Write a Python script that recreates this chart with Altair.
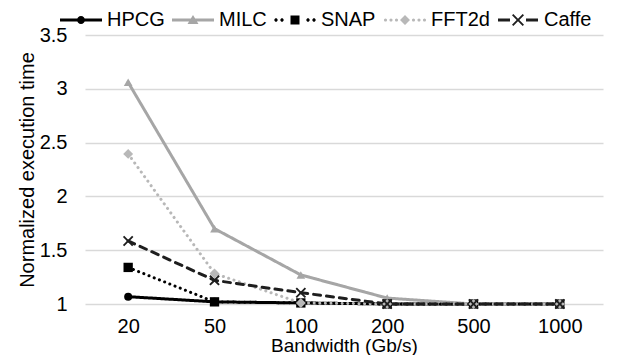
import altair as alt
import pandas as pd

# ---- data ----
bandwidth = ["20", "50", "100", "200", "500", "1000"]
series = ["HPCG", "MILC", "SNAP", "FFT2d", "Caffe"]
hpcg = [1.068, 1.02, 1.01, 1.0, 1.0, 1.0]
milc = [3.06, 1.70, 1.27, 1.055, 1.0, 1.0]
snap = [1.34, 1.02, 1.01, 1.0, 1.0, 1.0]
fft2d = [2.395, 1.284, 1.01, 1.0, 1.0, 1.0]
caffe = [1.586, 1.22, 1.105, 1.0, 1.0, 1.0]

rows = []
for name, vals in zip(series, [hpcg, milc, snap, fft2d, caffe]):
    for b, v in zip(bandwidth, vals):
        rows.append({"Bandwidth": b, "Benchmark": name, "Value": v})
df = pd.DataFrame(rows)

# ---- styles ----
colors = ["#000000", "#a6a6a6", "#000000", "#b8b8b8", "#1e1e1e"]
dashes = [[1, 0], [1, 0], [0.1, 5.5], [0.1, 5.5], [7, 6]]
xpath = ("M-1,-0.75L-0.75,-1L0,-0.25L0.75,-1L1,-0.75L0.25,0L1,0.75L0.75,1"
         "L0,0.25L-0.75,1L-1,0.75L-0.25,0Z")
shapes = ["circle", "triangle-up", "square", "diamond", xpath]
sizes = [64, 110, 72, 100, 110]

font = "Liberation Sans"

# legend symbols (line + marker), built as filled paths in a [-1,1] box
U = 21.0  # px per unit (symbol width 42px)


def f(v):
    return f"{v / U:.4f}"


def rect(x0, x1, h):
    return f"M{f(x0)},{f(-h/2)}L{f(x1)},{f(-h/2)}L{f(x1)},{f(h/2)}L{f(x0)},{f(h/2)}Z"


def circ(cx, r):
    return (f"M{f(cx - r)},0A{f(r)},{f(r)} 0 1,1 {f(cx + r)},0"
            f"A{f(r)},{f(r)} 0 1,1 {f(cx - r)},0Z")


def tri(a, top, bot):
    return f"M0,{f(top)}L{f(a)},{f(bot)}L{f(-a)},{f(bot)}Z"


def diamond(a):
    return f"M0,{f(-a)}L{f(a)},0L0,{f(a)}L{f(-a)},0Z"


def square(a):
    return rect(-a, a, 2 * a)


def xmark(a, d):
    p = [(-1, -1 + d), (-1 + d, -1), (0, -d), (1 - d, -1), (1, -1 + d), (d, 0),
         (1, 1 - d), (1 - d, 1), (0, d), (-1 + d, 1), (-1, 1 - d), (-d, 0)]
    return "M" + "L".join(f"{f(x * a)},{f(y * a)}" for x, y in p) + "Z"


leg_paths = [
    rect(-21, 21, 3) + circ(0, 4),
    rect(-21, 21, 3) + tri(5.5, -5, 4),
    "".join(circ(c, 1.7) for c in [-19, -13, 13, 19]) + square(4.5),
    "".join(circ(c, 1.6) for c in [-19.5, -14, -8.5, 8.5, 14, 19.5]) + diamond(5),
    rect(-20, -8, 3) + rect(8, 20, 3) + xmark(6, 0.22),
]

legend = alt.Legend(
    title=None, orient="none", direction="horizontal", legendX=-25, legendY=-36,
    padding=0, labelFontSize=20, labelFont=font, labelColor="#000000",
    labelOffset=5, columnPadding=7, symbolSize=1764, symbolStrokeWidth=0,
    symbolOpacity=1,
)

xenc = alt.X("Bandwidth:N", sort=bandwidth, title="Bandwidth (Gb/s)",
             scale=alt.Scale(paddingOuter=0.5),
             axis=alt.Axis(labelAngle=0, ticks=False, domain=False, grid=False,
                           labelFontSize=20, titleFontSize=19, labelFont=font, titleFont=font,
                           titleFontWeight="normal", labelColor="#000000",
                           titleColor="#000000", titlePadding=0, labelPadding=12))
yenc = alt.Y("Value:Q", title="Normalized execution time",
             scale=alt.Scale(domain=[1, 3.5], nice=False, zero=False),
             axis=alt.Axis(values=[1, 1.5, 2, 2.5, 3, 3.5], format="~g", ticks=False,
                           domain=False, labelFontSize=20, titleFontSize=20,
                           labelFont=font, titleFont=font, titleFontWeight="normal",
                           labelColor="#000000", titleColor="#000000",
                           gridColor="#d9d9d9", gridWidth=1.3,
                           labelPadding=18, titlePadding=2))
cenc = alt.Color("Benchmark:N", scale=alt.Scale(domain=series, range=colors), legend=None)

base = alt.Chart(df).encode(x=xenc, y=yenc, color=cenc)

lines = base.mark_line(strokeWidth=3, strokeCap="round", strokeJoin="round").encode(
    strokeDash=alt.StrokeDash("Benchmark:N", scale=alt.Scale(domain=series, range=dashes),
                              legend=None),
)
points = base.mark_point(filled=True, opacity=1, strokeWidth=0).encode(
    shape=alt.Shape("Benchmark:N", scale=alt.Scale(domain=series, range=shapes), legend=None),
    size=alt.Size("Benchmark:N", scale=alt.Scale(domain=series, range=sizes), legend=None),
)

# legend-only layer: no rows drawn, entries come from the explicit scale domains
legend_layer = alt.Chart(df).transform_filter("false").mark_point(
    filled=True, strokeWidth=0).encode(
    x=xenc, y=yenc,
    fill=alt.Fill("Benchmark:N", scale=alt.Scale(domain=series, range=colors), legend=legend),
    shape=alt.Shape("Benchmark:N", scale=alt.Scale(domain=series, range=leg_paths),
                    legend=legend),
)

chart = alt.layer(lines, points, legend_layer).resolve_scale(
    shape="independent", fill="independent"
).properties(
    width=518, height=269,
    autosize=alt.AutoSizeParams(type="none"),
    padding={"left": 77, "top": 27, "right": 7, "bottom": 52},
).configure_view(stroke=None)

chart.save("out.html", embed_options={"renderer": "svg", "actions": False})
